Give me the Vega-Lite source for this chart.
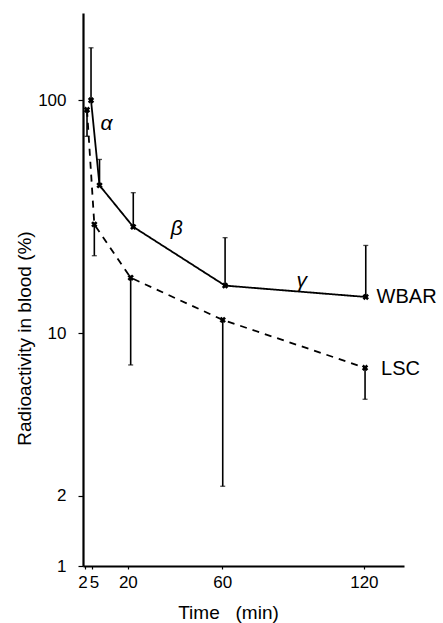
{
  "$schema": "https://vega.github.io/schema/vega-lite/v6.json",
  "width": 321,
  "height": 553,
  "autosize": {"type": "none"},
  "padding": {"left": 83, "top": 13, "right": 39, "bottom": 57},
  "background": "white",
  "config": {
    "view": {"stroke": null},
    "font": "Liberation Sans",
    "axis": {"grid": false, "domainColor": "black", "tickColor": "black", "labelColor": "black", "titleColor": "black", "titleFontWeight": "normal"}
  },
  "datasets": {
    "pts": [
      {"series": "WBAR", "t": 4.4, "v": 100, "e": 168},
      {"series": "WBAR", "t": 8.0, "v": 43.1, "e": 55.7},
      {"series": "WBAR", "t": 22.3, "v": 28.6, "e": 40.1},
      {"series": "WBAR", "t": 61.2, "v": 16.0, "e": 25.7},
      {"series": "WBAR", "t": 120.8, "v": 14.3, "e": 23.8},
      {"series": "LSC", "t": 2.7, "v": 91, "e": 70},
      {"series": "LSC", "t": 5.8, "v": 29.3, "e": 21.5},
      {"series": "LSC", "t": 21.2, "v": 17.3, "e": 7.3},
      {"series": "LSC", "t": 60.2, "v": 11.4, "e": 2.2},
      {"series": "LSC", "t": 120.5, "v": 7.1, "e": 5.2}
    ],
    "labels": [
      {"txt": "α", "t": 11.0, "v": 78.7, "kind": "greek"},
      {"txt": "β", "t": 40.7, "v": 27.9, "kind": "greek"},
      {"txt": "γ", "t": 93.7, "v": 16.7, "kind": "greek"},
      {"txt": "WBAR", "t": 125.4, "v": 14.3, "kind": "name"},
      {"txt": "LSC", "t": 127.3, "v": 7.0, "kind": "name"}
    ]
  },
  "layer": [
    {
      "data": {"name": "pts"},
      "mark": {"type": "line", "color": "black", "strokeWidth": 1.8},
      "encoding": {
        "x": {"field": "t", "type": "quantitative",
          "scale": {"type": "linear", "domain": [1, 137], "nice": false, "zero": false},
          "axis": {"values": [2, 5, 20, 60, 120], "title": "Time\u00a0\u00a0 (min)", "titleFontSize": 19, "titleX": 145, "titleY": 46, "titleBaseline": "middle",
            "labelFontSize": 17, "tickSize": 3, "labelPadding": 5, "domainWidth": 1.8, "tickWidth": 1.2,
            "labelOverlap": false, "labelFlush": false, "labelBound": false,
            "labelOffset": {"expr": "datum.value == 2 ? -3 : datum.value == 5 ? 1.5 : 0"}}},
        "y": {"field": "v", "type": "quantitative",
          "scale": {"type": "log", "domain": [1, 237], "nice": false},
          "axis": {"values": [1, 2, 10, 100], "title": "Radioactivity in blood (%)", "titleFontSize": 19, "titleX": -59, "titleY": 325, "titleBaseline": "middle",
            "labelFontSize": 17, "tickSize": 5, "labelPadding": 12, "domainWidth": 2.2, "tickWidth": 1.2, "labelOverlap": false, "labelBound": false}},
        "detail": {"field": "series"},
        "strokeDash": {"field": "series", "type": "nominal", "scale": {"domain": ["WBAR", "LSC"], "range": [[1, 0], [7, 6]]}, "legend": null}
      }
    },
    {
      "data": {"name": "pts"},
      "mark": {"type": "rule", "color": "black", "strokeWidth": 1.6},
      "encoding": {
        "x": {"field": "t", "type": "quantitative"},
        "y": {"field": "v", "type": "quantitative"},
        "y2": {"field": "e"}
      }
    },
    {
      "data": {"name": "pts"},
      "mark": {"type": "tick", "color": "black", "orient": "horizontal", "size": 5, "thickness": 1.3},
      "encoding": {
        "x": {"field": "t", "type": "quantitative"},
        "y": {"field": "e", "type": "quantitative"}
      }
    },
    {
      "data": {"name": "pts"},
      "mark": {"type": "point", "shape": "cross", "angle": 45, "filled": true, "color": "black", "size": 42, "opacity": 1},
      "encoding": {
        "x": {"field": "t", "type": "quantitative"},
        "y": {"field": "v", "type": "quantitative"}
      }
    },
    {
      "data": {"name": "labels"},
      "transform": [{"filter": "datum.kind == 'greek'"}],
      "mark": {"type": "text", "color": "black", "fontSize": 21, "fontStyle": "italic", "align": "center", "baseline": "middle"},
      "encoding": {
        "x": {"field": "t", "type": "quantitative"},
        "y": {"field": "v", "type": "quantitative"},
        "text": {"field": "txt"}
      }
    },
    {
      "data": {"name": "labels"},
      "transform": [{"filter": "datum.kind == 'name'"}],
      "mark": {"type": "text", "color": "black", "fontSize": 20, "align": "left", "baseline": "middle"},
      "encoding": {
        "x": {"field": "t", "type": "quantitative"},
        "y": {"field": "v", "type": "quantitative"},
        "text": {"field": "txt"}
      }
    }
  ]
}
